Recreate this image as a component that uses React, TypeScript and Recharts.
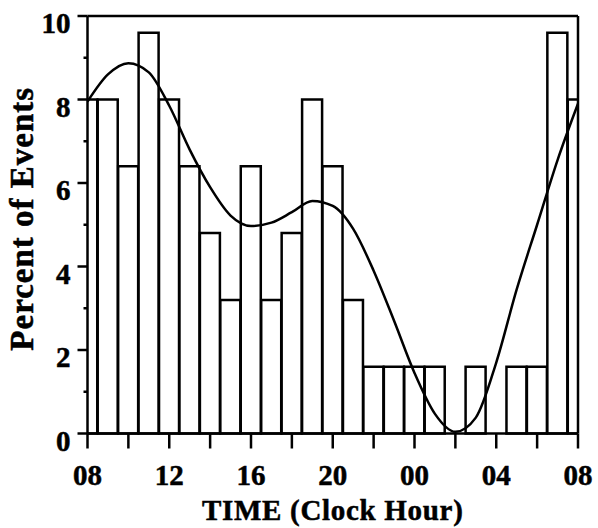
import { ComposedChart, Bar, Line, XAxis, YAxis, ReferenceLine } from 'recharts'

// hours after 08:00, one bin per clock hour (08 bin is split across both ends)
const HOURS = [0, 1, 2, 3, 4, 5, 6, 7, 8, 9, 10, 11, 12, 13, 14, 15, 16, 17, 18, 19, 20, 21, 22, 23, 24]
const CLOCK = ['08', '09', '10', '11', '12', '13', '14', '15', '16', '17', '18', '19', '20', '21', '22', '23', '00', '01', '02', '03', '04', '05', '06', '07', '08']
// percent of events per hour bin
const PERCENT = [8, 8, 6.4, 9.6, 8, 6.4, 4.8, 3.2, 6.4, 3.2, 4.8, 8, 6.4, 3.2, 1.6, 1.6, 1.6, 1.6, 0, 1.6, 0, 1.6, 1.6, 9.6, 8]
// fitted curve, read at each hour
const FIT = [7.95, 8.6, 8.87, 8.65, 7.85, 6.8, 5.9, 5.22, 4.97, 5.05, 5.3, 5.57, 5.45, 4.9, 3.9, 2.7, 1.45, 0.47, 0.04, 0.38, 1.7, 3.45, 5.0, 6.55, 7.9]

const X_TICKS = [0, 2, 4, 6, 8, 10, 12, 14, 16, 18, 20, 22, 24]
const Y_TICKS = [0, 1, 2, 3, 4, 5, 6, 7, 8, 9, 10]

const data = HOURS.map((h, i) => ({ hour: h, percent: PERCENT[i], fit: FIT[i] }))

const FONT = 'Liberation Serif, Times New Roman, serif'
const AXIS = { stroke: '#000', strokeWidth: 2.5 }
const TEXT = { fill: '#000', stroke: '#000', strokeWidth: 0.5, fontSize: 29, fontWeight: 'bold', fontFamily: FONT }

// y ticks: long tick + label on even values, short tick on odd ones
const YTick = (props: any) => {
  const { x, y, payload } = props
  const major = payload.value % 2 === 0
  return (
    <g>
      <line x1={x - (major ? 10 : 4)} x2={x} y1={y} y2={y} stroke="#000" strokeWidth={2.5} />
      {major && (
        <text x={x - 17} y={y + 17} textAnchor="end" {...TEXT}>
          {payload.value}
        </text>
      )}
    </g>
  )
}

const YTitle = (props: any) => {
  const { viewBox } = props
  const cx = viewBox.x + 33
  const cy = viewBox.y + viewBox.height / 2 - 6
  return (
    <text
      x={cx}
      y={cy}
      transform={`rotate(-90 ${cx} ${cy})`}
      textAnchor="middle"
      {...TEXT}
      fontSize={33}
      letterSpacing={1}
    >
      Percent of Events
    </text>
  )
}

export default function App() {
  return (
    <div style={{ position: 'absolute', left: 0, top: 0, background: '#fff' }}>
      <ComposedChart
        width={598}
        height={528}
        data={data}
        margin={{ top: 16, right: 20, bottom: 0, left: 0 }}
        barCategoryGap={0}
        barGap={0}
      >
        <XAxis
          dataKey="hour"
          type="number"
          domain={[0, 24]}
          ticks={X_TICKS}
          interval={0}
          allowDataOverflow
          height={94.5}
          tickSize={15}
          tickMargin={16}
          axisLine={AXIS}
          tickLine={AXIS}
          tickFormatter={(v: number) => (v % 4 === 0 ? CLOCK[v] : '')}
          tick={TEXT}
          label={{
            value: 'TIME (Clock Hour)',
            position: 'insideBottom',
            offset: 8,
            ...TEXT,
            letterSpacing: 0.7,
          }}
        />
        <YAxis
          domain={[0, 10]}
          ticks={Y_TICKS}
          interval={0}
          width={87.5}
          tickSize={0}
          tickMargin={0}
          tickLine={false}
          axisLine={AXIS}
          tick={YTick}
          label={YTitle}
        />
        <Bar dataKey="percent" fill="#fff" stroke="#000" strokeWidth={2.5} isAnimationActive={false} />
        <Line type="monotone" dataKey="fit" stroke="#000" strokeWidth={2.5} dot={false} isAnimationActive={false} />
        {/* box frame: top and right edges */}
        <ReferenceLine y={10} stroke="#000" strokeWidth={2.5} />
        <ReferenceLine x={24} stroke="#000" strokeWidth={2.5} />
      </ComposedChart>
    </div>
  )
}
